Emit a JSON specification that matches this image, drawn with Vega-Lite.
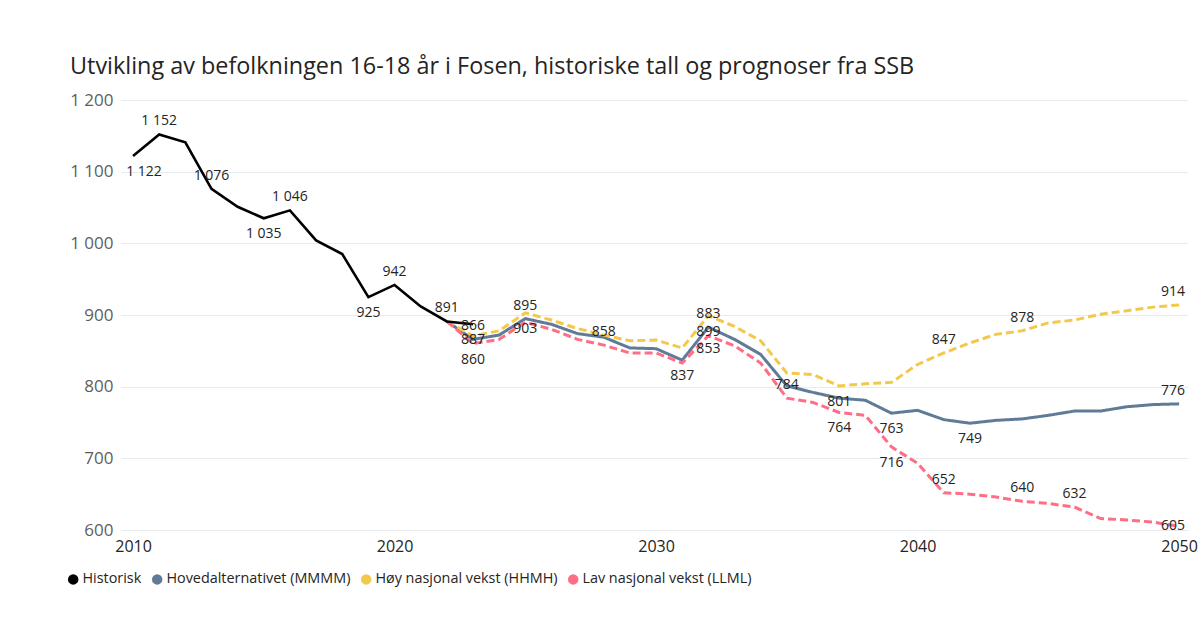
{
  "$schema": "https://vega.github.io/schema/vega-lite/v6.json",
  "width": 1067,
  "height": 430,
  "autosize": {"type": "none"},
  "padding": {"left": 121, "top": 100, "right": 16, "bottom": 95},
  "background": "white",
  "title": {
    "text": "Utvikling av befolkningen 16-18 år i Fosen, historiske tall og prognoser fra SSB",
    "anchor": "start",
    "frame": "group",
    "dx": -51,
    "offset": 12,
    "fontSize": 23.4,
    "font": "Open Sans",
    "fontWeight": "normal",
    "color": "#252423"
  },
  "config": {
    "locale": {"number": {"decimal": ",", "thousands": " ", "grouping": [3], "currency": ["", ""]}},
    "view": {"stroke": null},
    "font": "Open Sans"
  },
  "datasets": {
    "series": [
      {"series": "Historisk", "year": 2010, "value": 1122},
      {"series": "Historisk", "year": 2011, "value": 1152},
      {"series": "Historisk", "year": 2012, "value": 1141},
      {"series": "Historisk", "year": 2013, "value": 1076},
      {"series": "Historisk", "year": 2014, "value": 1051},
      {"series": "Historisk", "year": 2015, "value": 1035},
      {"series": "Historisk", "year": 2016, "value": 1046},
      {"series": "Historisk", "year": 2017, "value": 1004},
      {"series": "Historisk", "year": 2018, "value": 985},
      {"series": "Historisk", "year": 2019, "value": 925},
      {"series": "Historisk", "year": 2020, "value": 942},
      {"series": "Historisk", "year": 2021, "value": 912},
      {"series": "Historisk", "year": 2022, "value": 891},
      {"series": "Historisk", "year": 2023, "value": 887},

      {"series": "Hovedalternativet (MMMM)", "year": 2022, "value": 891},
      {"series": "Hovedalternativet (MMMM)", "year": 2023, "value": 866},
      {"series": "Hovedalternativet (MMMM)", "year": 2024, "value": 872},
      {"series": "Hovedalternativet (MMMM)", "year": 2025, "value": 895},
      {"series": "Hovedalternativet (MMMM)", "year": 2026, "value": 887},
      {"series": "Hovedalternativet (MMMM)", "year": 2027, "value": 874},
      {"series": "Hovedalternativet (MMMM)", "year": 2028, "value": 869},
      {"series": "Hovedalternativet (MMMM)", "year": 2029, "value": 854},
      {"series": "Hovedalternativet (MMMM)", "year": 2030, "value": 853},
      {"series": "Hovedalternativet (MMMM)", "year": 2031, "value": 837},
      {"series": "Hovedalternativet (MMMM)", "year": 2032, "value": 883},
      {"series": "Hovedalternativet (MMMM)", "year": 2033, "value": 866},
      {"series": "Hovedalternativet (MMMM)", "year": 2034, "value": 845},
      {"series": "Hovedalternativet (MMMM)", "year": 2035, "value": 801},
      {"series": "Hovedalternativet (MMMM)", "year": 2036, "value": 792},
      {"series": "Hovedalternativet (MMMM)", "year": 2037, "value": 784},
      {"series": "Hovedalternativet (MMMM)", "year": 2038, "value": 781},
      {"series": "Hovedalternativet (MMMM)", "year": 2039, "value": 763},
      {"series": "Hovedalternativet (MMMM)", "year": 2040, "value": 767},
      {"series": "Hovedalternativet (MMMM)", "year": 2041, "value": 754},
      {"series": "Hovedalternativet (MMMM)", "year": 2042, "value": 749},
      {"series": "Hovedalternativet (MMMM)", "year": 2043, "value": 753},
      {"series": "Hovedalternativet (MMMM)", "year": 2044, "value": 755},
      {"series": "Hovedalternativet (MMMM)", "year": 2045, "value": 760},
      {"series": "Hovedalternativet (MMMM)", "year": 2046, "value": 766},
      {"series": "Hovedalternativet (MMMM)", "year": 2047, "value": 766},
      {"series": "Hovedalternativet (MMMM)", "year": 2048, "value": 772},
      {"series": "Hovedalternativet (MMMM)", "year": 2049, "value": 775},
      {"series": "Hovedalternativet (MMMM)", "year": 2050, "value": 776},

      {"series": "Høy nasjonal vekst (HHMH)", "year": 2022, "value": 891},
      {"series": "Høy nasjonal vekst (HHMH)", "year": 2023, "value": 871},
      {"series": "Høy nasjonal vekst (HHMH)", "year": 2024, "value": 878},
      {"series": "Høy nasjonal vekst (HHMH)", "year": 2025, "value": 903},
      {"series": "Høy nasjonal vekst (HHMH)", "year": 2026, "value": 893},
      {"series": "Høy nasjonal vekst (HHMH)", "year": 2027, "value": 881},
      {"series": "Høy nasjonal vekst (HHMH)", "year": 2028, "value": 872},
      {"series": "Høy nasjonal vekst (HHMH)", "year": 2029, "value": 864},
      {"series": "Høy nasjonal vekst (HHMH)", "year": 2030, "value": 865},
      {"series": "Høy nasjonal vekst (HHMH)", "year": 2031, "value": 854},
      {"series": "Høy nasjonal vekst (HHMH)", "year": 2032, "value": 899},
      {"series": "Høy nasjonal vekst (HHMH)", "year": 2033, "value": 884},
      {"series": "Høy nasjonal vekst (HHMH)", "year": 2034, "value": 864},
      {"series": "Høy nasjonal vekst (HHMH)", "year": 2035, "value": 819},
      {"series": "Høy nasjonal vekst (HHMH)", "year": 2036, "value": 817},
      {"series": "Høy nasjonal vekst (HHMH)", "year": 2037, "value": 801},
      {"series": "Høy nasjonal vekst (HHMH)", "year": 2038, "value": 804},
      {"series": "Høy nasjonal vekst (HHMH)", "year": 2039, "value": 806},
      {"series": "Høy nasjonal vekst (HHMH)", "year": 2040, "value": 831},
      {"series": "Høy nasjonal vekst (HHMH)", "year": 2041, "value": 847},
      {"series": "Høy nasjonal vekst (HHMH)", "year": 2042, "value": 861},
      {"series": "Høy nasjonal vekst (HHMH)", "year": 2043, "value": 873},
      {"series": "Høy nasjonal vekst (HHMH)", "year": 2044, "value": 878},
      {"series": "Høy nasjonal vekst (HHMH)", "year": 2045, "value": 889},
      {"series": "Høy nasjonal vekst (HHMH)", "year": 2046, "value": 893},
      {"series": "Høy nasjonal vekst (HHMH)", "year": 2047, "value": 901},
      {"series": "Høy nasjonal vekst (HHMH)", "year": 2048, "value": 906},
      {"series": "Høy nasjonal vekst (HHMH)", "year": 2049, "value": 911},
      {"series": "Høy nasjonal vekst (HHMH)", "year": 2050, "value": 914},

      {"series": "Lav nasjonal vekst (LLML)", "year": 2022, "value": 891},
      {"series": "Lav nasjonal vekst (LLML)", "year": 2023, "value": 860},
      {"series": "Lav nasjonal vekst (LLML)", "year": 2024, "value": 866},
      {"series": "Lav nasjonal vekst (LLML)", "year": 2025, "value": 890},
      {"series": "Lav nasjonal vekst (LLML)", "year": 2026, "value": 880},
      {"series": "Lav nasjonal vekst (LLML)", "year": 2027, "value": 866},
      {"series": "Lav nasjonal vekst (LLML)", "year": 2028, "value": 858},
      {"series": "Lav nasjonal vekst (LLML)", "year": 2029, "value": 847},
      {"series": "Lav nasjonal vekst (LLML)", "year": 2030, "value": 847},
      {"series": "Lav nasjonal vekst (LLML)", "year": 2031, "value": 833},
      {"series": "Lav nasjonal vekst (LLML)", "year": 2032, "value": 871},
      {"series": "Lav nasjonal vekst (LLML)", "year": 2033, "value": 857},
      {"series": "Lav nasjonal vekst (LLML)", "year": 2034, "value": 833},
      {"series": "Lav nasjonal vekst (LLML)", "year": 2035, "value": 784},
      {"series": "Lav nasjonal vekst (LLML)", "year": 2036, "value": 778},
      {"series": "Lav nasjonal vekst (LLML)", "year": 2037, "value": 764},
      {"series": "Lav nasjonal vekst (LLML)", "year": 2038, "value": 760},
      {"series": "Lav nasjonal vekst (LLML)", "year": 2039, "value": 716},
      {"series": "Lav nasjonal vekst (LLML)", "year": 2040, "value": 693},
      {"series": "Lav nasjonal vekst (LLML)", "year": 2041, "value": 652},
      {"series": "Lav nasjonal vekst (LLML)", "year": 2042, "value": 650},
      {"series": "Lav nasjonal vekst (LLML)", "year": 2043, "value": 646},
      {"series": "Lav nasjonal vekst (LLML)", "year": 2044, "value": 640},
      {"series": "Lav nasjonal vekst (LLML)", "year": 2045, "value": 637},
      {"series": "Lav nasjonal vekst (LLML)", "year": 2046, "value": 632},
      {"series": "Lav nasjonal vekst (LLML)", "year": 2047, "value": 616},
      {"series": "Lav nasjonal vekst (LLML)", "year": 2048, "value": 614},
      {"series": "Lav nasjonal vekst (LLML)", "year": 2049, "value": 611},
      {"series": "Lav nasjonal vekst (LLML)", "year": 2050, "value": 605}
    ],
    "labels": [
      {"series": "Historisk", "year": 2010, "value": 1122, "side": "below_right"},
      {"series": "Historisk", "year": 2011, "value": 1152, "side": "above"},
      {"series": "Historisk", "year": 2013, "value": 1076, "side": "above"},
      {"series": "Historisk", "year": 2015, "value": 1035, "side": "below"},
      {"series": "Historisk", "year": 2016, "value": 1046, "side": "above"},
      {"series": "Historisk", "year": 2019, "value": 925, "side": "below"},
      {"series": "Historisk", "year": 2020, "value": 942, "side": "above"},
      {"series": "Historisk", "year": 2022, "value": 891, "side": "above"},
      {"series": "Historisk", "year": 2023, "value": 887, "side": "below"},
      {"series": "Hovedalternativet (MMMM)", "year": 2023, "value": 866, "side": "above"},
      {"series": "Hovedalternativet (MMMM)", "year": 2025, "value": 895, "side": "above"},
      {"series": "Hovedalternativet (MMMM)", "year": 2031, "value": 837, "side": "below"},
      {"series": "Hovedalternativet (MMMM)", "year": 2032, "value": 883, "side": "above"},
      {"series": "Hovedalternativet (MMMM)", "year": 2039, "value": 763, "side": "below"},
      {"series": "Hovedalternativet (MMMM)", "year": 2042, "value": 749, "side": "below"},
      {"series": "Hovedalternativet (MMMM)", "year": 2050, "value": 776, "side": "above_left"},
      {"series": "Høy nasjonal vekst (HHMH)", "year": 2025, "value": 903, "side": "below"},
      {"series": "Høy nasjonal vekst (HHMH)", "year": 2032, "value": 899, "side": "below"},
      {"series": "Høy nasjonal vekst (HHMH)", "year": 2037, "value": 801, "side": "below"},
      {"series": "Høy nasjonal vekst (HHMH)", "year": 2041, "value": 847, "side": "above"},
      {"series": "Høy nasjonal vekst (HHMH)", "year": 2044, "value": 878, "side": "above"},
      {"series": "Høy nasjonal vekst (HHMH)", "year": 2050, "value": 914, "side": "above_left"},
      {"series": "Lav nasjonal vekst (LLML)", "year": 2023, "value": 860, "side": "below"},
      {"series": "Lav nasjonal vekst (LLML)", "year": 2028, "value": 858, "side": "above"},
      {"series": "Lav nasjonal vekst (LLML)", "year": 2032, "value": 853, "side": "mid"},
      {"series": "Lav nasjonal vekst (LLML)", "year": 2035, "value": 784, "side": "above"},
      {"series": "Lav nasjonal vekst (LLML)", "year": 2037, "value": 764, "side": "below"},
      {"series": "Lav nasjonal vekst (LLML)", "year": 2039, "value": 716, "side": "below"},
      {"series": "Lav nasjonal vekst (LLML)", "year": 2041, "value": 652, "side": "above"},
      {"series": "Lav nasjonal vekst (LLML)", "year": 2044, "value": 640, "side": "above"},
      {"series": "Lav nasjonal vekst (LLML)", "year": 2046, "value": 632, "side": "above"},
      {"series": "Lav nasjonal vekst (LLML)", "year": 2050, "value": 605, "side": "mid_left"}
    ]
  },
  "encoding": {
    "x": {
      "field": "year",
      "type": "quantitative",
      "scale": {"domain": [2009.54, 2050.34], "nice": false, "zero": false},
      "axis": {
        "values": [2010, 2020, 2030, 2040, 2050],
        "format": "d",
        "grid": false,
        "domain": false,
        "ticks": false,
        "labelFontSize": 16,
        "labelColor": "#252423",
        "labelPadding": 8,
        "labelFlush": true,
        "title": null
      }
    },
    "y": {
      "field": "value",
      "type": "quantitative",
      "scale": {"domain": [600, 1200], "nice": false, "zero": false},
      "axis": {
        "values": [600, 700, 800, 900, 1000, 1100, 1200],
        "format": ",d",
        "grid": true,
        "gridColor": "#E8EBEE",
        "gridWidth": 1,
        "domain": false,
        "ticks": false,
        "labelFontSize": 17,
        "labelColor": "#605E5C",
        "labelPadding": 8,
        "title": null
      }
    }
  },
  "layer": [
    {
      "data": {"name": "series"},
      "transform": [{"filter": "datum.series !== 'Historisk'"}],
      "mark": {"type": "line", "strokeWidth": 3},
      "encoding": {
        "color": {
          "field": "series",
          "type": "nominal",
          "scale": {
            "domain": ["Historisk", "Hovedalternativet (MMMM)", "Høy nasjonal vekst (HHMH)", "Lav nasjonal vekst (LLML)"],
            "range": ["#000000", "#5F7B98", "#F2C94C", "#FF6E86"]
          },
          "legend": {
            "orient": "none",
            "legendX": -55,
            "legendY": 472,
            "direction": "horizontal",
            "title": null,
            "symbolType": "circle",
            "symbolSize": 110,
            "symbolStrokeWidth": 0,
            "labelFontSize": 14.4,
            "labelColor": "#252423",
            "labelFont": "Open Sans",
            "labelLimit": 0,
            "columnPadding": 8,
            "labelOffset": 2,
            "encode": {
              "symbols": {
                "update": {
                  "fill": {"scale": "color", "field": "value"},
                  "strokeWidth": {"value": 0},
                  "opacity": {"value": 1}
                }
              }
            }
          }
        },
        "strokeDash": {
          "field": "series",
          "type": "nominal",
          "scale": {
            "domain": ["Historisk", "Hovedalternativet (MMMM)", "Høy nasjonal vekst (HHMH)", "Lav nasjonal vekst (LLML)"],
            "range": [[1, 0], [1, 0], [8, 4], [8, 4]]
          },
          "legend": null
        }
      }
    },
    {
      "data": {"name": "series"},
      "transform": [{"filter": "datum.series === 'Historisk'"}],
      "mark": {"type": "line", "strokeWidth": 2.6},
      "encoding": {
        "color": {"field": "series", "type": "nominal"}
      }
    },
    {
      "data": {"name": "labels"},
      "transform": [{"filter": "datum.side === 'above'"}],
      "mark": {"type": "text", "baseline": "middle", "dy": -13, "fontSize": 14, "color": "#252423", "font": "Open Sans"},
      "encoding": {"text": {"field": "value", "type": "quantitative", "format": ",d"}}
    },
    {
      "data": {"name": "labels"},
      "transform": [{"filter": "datum.side === 'above_left'"}],
      "mark": {"type": "text", "baseline": "middle", "dy": -13, "dx": -6, "fontSize": 14, "color": "#252423", "font": "Open Sans"},
      "encoding": {"text": {"field": "value", "type": "quantitative", "format": ",d"}}
    },
    {
      "data": {"name": "labels"},
      "transform": [{"filter": "datum.side === 'below'"}],
      "mark": {"type": "text", "baseline": "middle", "dy": 16, "fontSize": 14, "color": "#252423", "font": "Open Sans"},
      "encoding": {"text": {"field": "value", "type": "quantitative", "format": ",d"}}
    },
    {
      "data": {"name": "labels"},
      "transform": [{"filter": "datum.side === 'below_right'"}],
      "mark": {"type": "text", "baseline": "middle", "dy": 16, "dx": 11, "fontSize": 14, "color": "#252423", "font": "Open Sans"},
      "encoding": {"text": {"field": "value", "type": "quantitative", "format": ",d"}}
    },
    {
      "data": {"name": "labels"},
      "transform": [{"filter": "datum.side === 'mid'"}],
      "mark": {"type": "text", "baseline": "middle", "dy": 0, "fontSize": 14, "color": "#252423", "font": "Open Sans"},
      "encoding": {"text": {"field": "value", "type": "quantitative", "format": ",d"}}
    },
    {
      "data": {"name": "labels"},
      "transform": [{"filter": "datum.side === 'mid_left'"}],
      "mark": {"type": "text", "baseline": "middle", "dy": 0, "dx": -6, "fontSize": 14, "color": "#252423", "font": "Open Sans"},
      "encoding": {"text": {"field": "value", "type": "quantitative", "format": ",d"}}
    }
  ]
}
